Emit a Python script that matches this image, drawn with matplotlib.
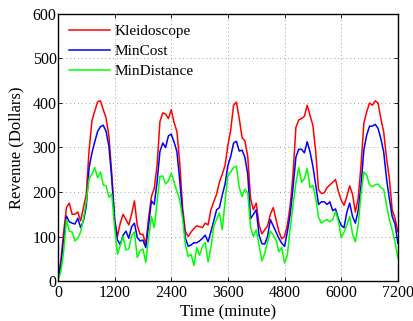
import numpy as np
import matplotlib
matplotlib.use("Agg")
import matplotlib.pyplot as plt

plt.rcParams['font.family'] = ['Liberation Serif', 'DejaVu Serif']
plt.rcParams['font.size'] = 11.5

# one reading every 60 minutes, 0..7200
time = np.arange(0, 7201, 60)

kleidoscope = [
    5, 45, 110, 165, 175, 150, 150, 155, 135, 165, 195, 295, 360, 382, 403, 405,
    385, 366, 325, 240, 140, 100, 130, 150,
    138, 126, 150, 180, 125, 105, 105, 82, 141, 190, 208, 260, 358, 378, 375, 365,
    385, 356, 336, 265, 165, 111, 100,
    110, 118, 124, 122, 120, 130, 126, 160, 178, 195, 222, 240, 260, 305, 340, 395,
    402, 365, 322, 315, 280, 185, 160,
    175, 126, 106, 115, 124, 150, 165, 138, 111, 95, 100, 126, 170, 240, 345, 362,
    365, 370, 395, 372, 350, 291, 205,
    197, 198, 210, 216, 222, 228, 201, 182, 170, 190, 214, 195, 155, 186, 260, 355,
    380, 400, 395, 405, 400, 365, 335, 276, 230, 160, 141, 111,
]
mincost = [
    3, 35, 90, 146, 133, 130, 128, 141, 120, 135, 168, 255, 288, 313, 336, 347,
    350, 336, 302, 230, 137, 92, 82, 103,
    112, 96, 122, 130, 98, 90, 92, 75, 126, 180, 172, 223, 291, 310, 300, 326,
    330, 312, 291, 225, 150, 96, 78,
    81, 86, 86, 90, 96, 103, 88, 111, 135, 160, 165, 193, 218, 260, 280, 310,
    314, 292, 294, 278, 240, 140, 150,
    160, 103, 84, 83, 100, 138, 124, 110, 96, 85, 78, 111, 150, 210, 278, 296,
    296, 288, 313, 290, 258, 216, 172,
    178, 178, 172, 178, 158, 162, 140, 125, 120, 155, 175, 145, 130, 158, 215, 295,
    328, 348, 348, 352, 343, 320, 290, 230, 185, 145, 128, 85,
]
mindistance = [
    2, 20, 65, 138, 112, 110, 90, 96, 110, 140, 180, 230, 240, 255, 232, 245,
    216, 214, 188, 195, 120, 60, 80, 100,
    70, 72, 102, 110, 53, 68, 72, 42, 96, 145, 120, 178, 235, 236, 218, 225,
    242, 222, 201, 183, 140, 81, 55,
    60, 35, 75, 58, 78, 86, 43, 75, 122, 138, 153, 115, 180, 238, 245, 255,
    258, 210, 190, 206, 198, 120, 100,
    115, 81, 45, 62, 88, 112, 103, 92, 66, 75, 40, 58, 120, 170, 220, 255,
    222, 230, 253, 210, 215, 186, 143,
    130, 135, 138, 133, 138, 156, 135, 98, 110, 126, 145, 105, 88, 126, 195, 245,
    238, 216, 212, 216, 218, 210, 206, 171, 138, 115, 88, 51,
]

fig = plt.figure(figsize=(4.14, 3.21), dpi=100)
ax = fig.add_axes([0.140, 0.1246, 0.821, 0.8318])

ax.plot(time, kleidoscope, color='#ff0000', lw=1.1, label='Kleidoscope')
ax.plot(time, mincost, color='#0000ff', lw=1.1, label='MinCost')
ax.plot(time, mindistance, color='#00ff00', lw=1.1, label='MinDistance')

ax.set_xlim(0, 7200)
ax.set_ylim(0, 600)
ax.set_xticks(np.arange(0, 7201, 1200))
ax.set_yticks(np.arange(0, 601, 100))
ax.tick_params(direction='in', top=True, right=True, length=3, width=0.6,
               labelsize=11.5)
ax.tick_params(axis='x', pad=3)
ax.tick_params(axis='y', pad=1)
ax.grid(True, linestyle=(0, (1, 3)), color='#a0a0a0', linewidth=0.7)
for s in ax.spines.values():
    s.set_linewidth(1.0)

ax.set_xlabel('Time (minute)', fontsize=12, labelpad=2)
ax.set_ylabel('Revenue (Dollars)', fontsize=12, labelpad=6)

ax.legend(loc='upper left', frameon=False, handlelength=2.7, handletextpad=0.3,
          labelspacing=0.4, borderaxespad=0.3, fontsize=11)

fig.savefig('out.png', dpi=100)
